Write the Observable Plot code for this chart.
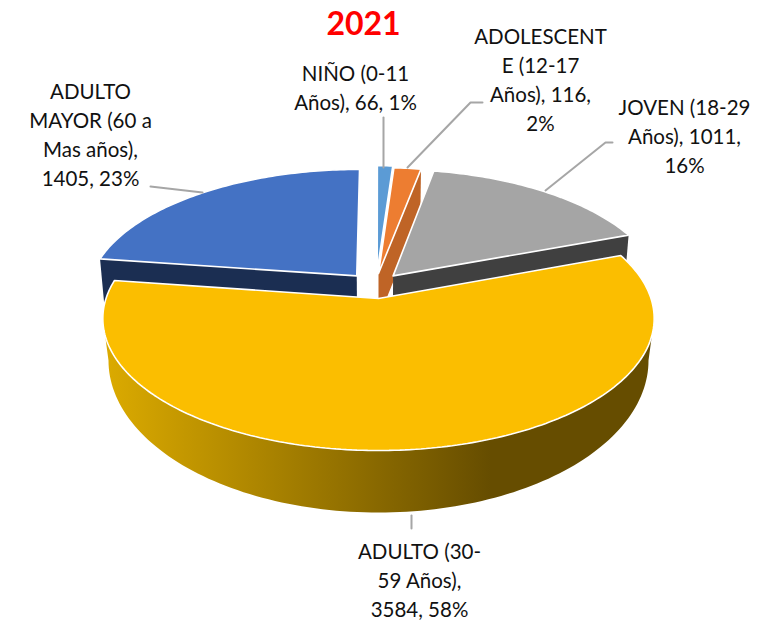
<!DOCTYPE html>
<html>
<head>
<meta charset="utf-8">
<style>html,body{margin:0;padding:0;background:#fff}svg{display:block}</style>
<script src="https://cdn.jsdelivr.net/npm/d3@7"></script>
<script src="https://cdn.jsdelivr.net/npm/@observablehq/plot@0.6"></script>
</head>
<body>
<script>
const title = "2021";
const categories = ["NIÑO (0-11 Años)", "ADOLESCENTE (12-17 Años)", "JOVEN (18-29 Años)", "ADULTO (30-59 Años)", "ADULTO MAYOR (60 a Mas años)"];
const values = [66, 116, 1011, 3584, 1405];
const topColors = ["#5b9bd5", "#ed7d31", "#a5a5a5", "#fbbe00", "#4472c4"];
const wallColors = ["#37608a", "#bf6426", "#404040", "#664d00", "#1b2e52"];
const labelLines = [
  "NIÑO (0-11\nAños), 66, 1%",
  "ADOLESCENT\nE (12-17\nAños), 116,\n2%",
  "JOVEN (18-29\nAños), 1011,\n16%",
  "ADULTO (30-\n59 Años),\n3584, 58%",
  "ADULTO\nMAYOR (60 a\nMas años),\n1405, 23%"
];
const labelX = [355, 540, 684, 419, 90];
const labelY = [85.5, 78, 134, 578.5, 133];
const leaders = [
  [[383, 117], [383, 167]],
  [[482, 102], [470, 102], [407, 167]],
  [[612, 142], [605, 142], [545, 190]],
  [[411, 515], [411, 528]],
  [[150, 186], [202, 192]]
];
const explodeU = [-0.005, 0, 0.055, 0, -0.082];
const explodeV = [-0.22, -0.2, -0.18, 0, -0.18];

// 3-D view of the disc
const cx = 378, cy = 318, rxView = 272.5, ryView = 132, tipLift = 20, persp = 0.1515;
const bottomCy = 360, bottomRx = 270, bottomRy = 152, wallDepth = 45, wallShrink = 0.985;

const total = d3.sum(values);
const cumulative = d3.cumsum(values);
const angleAt = (f) => f * 2 * Math.PI;
function project(u, v) {
  const d = 1 - persp * v;
  return { x: cx + rxView * u / d, y: cy + (ryView * v - tipLift) / d };
}
function sliceFace(i) {
  const a0 = angleAt((cumulative[i] - values[i]) / total), a1 = angleAt(cumulative[i] / total);
  const du = explodeU[i], dv = explodeV[i];
  const n = Math.max(2, Math.ceil((a1 - a0) * 60));
  const rim = d3.range(n + 1).map((k) => {
    const a = a0 + (a1 - a0) * k / n;
    return project(Math.sin(a) + du, -Math.cos(a) + dv);
  });
  return { tip: project(du, dv), rim };
}
const down = (p) => ({ x: cx + (p.x - cx) * wallShrink, y: p.y + wallDepth });
const faceLine = (i) => {
  const { tip, rim } = sliceFace(i);
  return [tip, ...rim, tip];
};
// wall along a cut edge: from the tip to the rim end of the slice
const cutWall = (tip, end) => [tip, end, down(end), down(tip), tip];

const blue = 4, orange = 1, gray = 2, adult = 3, nino = 0;
const blueF = sliceFace(blue), orangeF = sliceFace(orange), grayF = sliceFace(gray);

// front wall of the big slice
const sideA0 = Math.PI - Math.acos(tipLift / ryView), sideA1 = Math.PI + Math.acos(tipLift / ryView);
const sideTop = d3.range(0, 121).map((k) => {
  const a = sideA0 + (sideA1 - sideA0) * k / 120;
  return project(Math.sin(a), -Math.cos(a));
});
const sideBottom = d3.range(0, 121).map((k) => {
  const a = Math.PI * 1.5 - Math.PI * k / 120;
  return { x: cx + bottomRx * Math.sin(a), y: bottomCy - bottomRy * Math.cos(a) };
});
const side = [...sideTop, ...sideBottom, sideTop[0]];

const poly = (pts, fill, stroke) => Plot.line(pts, {
  x: "x", y: "y", fill, stroke: stroke ? "#ffffff" : "none", strokeWidth: stroke ? 1.6 : 0, curve: "linear", strokeLinejoin: "miter"
});

const gradient = (index, { x }) => {
  const g = d3.create("svg:g");
  const lg = g.append("defs").append("linearGradient")
    .attr("id", "adultSide").attr("gradientUnits", "userSpaceOnUse")
    .attr("x1", x(103)).attr("x2", x(490)).attr("y1", 0).attr("y2", 0);
  lg.append("stop").attr("offset", 0).attr("stop-color", "#dcab00");
  lg.append("stop").attr("offset", 1).attr("stop-color", wallColors[adult]);
  return g.node();
};

const labels = labelLines.map((text, i) => ({ text, x: labelX[i], y: labelY[i] }));

const chart = Plot.plot({
  width: 782, height: 620, margin: 0,
  x: { domain: [0, 782], range: [0, 782], axis: null },
  y: { domain: [0, 620], range: [0, 620], axis: null },
  style: { background: "#fff" },
  marks: [
    gradient,
    poly(cutWall(blueF.tip, blueF.rim[0]), wallColors[blue]),
    poly(faceLine(blue), topColors[blue], true),
    poly(cutWall(orangeF.tip, orangeF.rim[orangeF.rim.length - 1]), wallColors[orange]),
    poly(faceLine(orange), topColors[orange], true),
    poly(faceLine(nino), topColors[nino], true),
    poly(cutWall(grayF.tip, grayF.rim[grayF.rim.length - 1]), wallColors[gray]),
    poly(faceLine(gray), topColors[gray], true),
    poly(side, "url(#adultSide)"),
    poly(faceLine(adult), topColors[adult], true),
    ...leaders.map((pts) => Plot.line(pts, { x: (d) => d[0], y: (d) => d[1], stroke: "#a6a6a6", strokeWidth: 2, curve: "linear" })),
    Plot.text(labels, {
      x: "x", y: "y", text: "text", fontFamily: "Lato", fontSize: 20.5, lineHeight: 29 / 20.5,
      fill: "#111", textAnchor: "middle", lineAnchor: "middle"
    }),
    Plot.text([title], {
      x: () => 363, y: () => 24, text: (d) => d, fontFamily: "Lato", fontWeight: 700, fontSize: 32,
      fill: "#ff0000", textAnchor: "middle", lineAnchor: "middle"
    })
  ]
});
document.body.appendChild(chart);
</script>
</body>
</html>
